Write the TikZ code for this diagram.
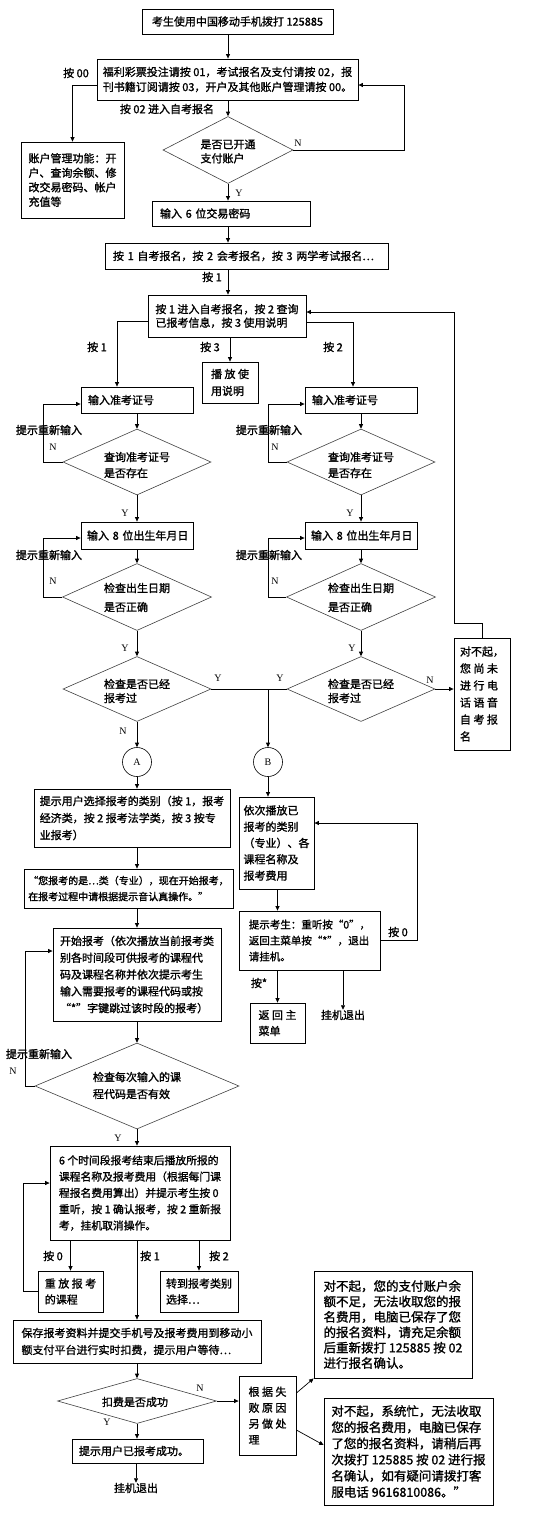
\documentclass[tikz,border=0pt]{standalone}
\usepackage{fontspec}
\setmainfont{Liberation Serif}
\newfontfamily\cjkfam{Noto Sans CJK SC}[AutoFakeBold=1.3]
\newcommand\cjk{\cjkfam\bfseries}
\usetikzlibrary{arrows.meta,shapes.geometric}
\begin{document}
\begin{tikzpicture}[x=1pt,y=-1pt,
 box/.style={draw,line width=0.8pt,inner sep=2pt,align=left,font=\cjk\fontsize{11}{15}\selectfont},
 dia/.style={draw=black!75,line width=0.6pt,diamond,inner sep=0pt},
 dtext/.style={inner sep=0pt,align=left},
 lab/.style={inner sep=0pt,font=\cjk\fontsize{11}{13}\selectfont},
 yn/.style={inner sep=0pt,font=\fontsize{10}{12}\selectfont},
 arr/.style={line width=0.7pt,-{Triangle[length=4.5pt,width=4pt]}},
 ln/.style={line width=0.7pt},
 circ/.style={circle,draw,line width=0.6pt,minimum size=29pt,inner sep=0pt,font=\fontsize{10}{12}\selectfont}
]
\useasboundingbox (0,0) rectangle (540,1516);

% ---------- top part ----------
\node[box,minimum width=191pt,minimum height=25pt] (n1) at (237.5,21.5) {考生使用中国移动手机拨打 125885};
\node[box,minimum width=261pt,minimum height=41pt] (n2) at (227.5,79.5) {福利彩票投注请按 01，考试报名及支付请按 02，报\\刊书籍订阅请按 03，开户及其他账户管理请按 00。};
\node[box,minimum width=103pt,minimum height=76pt,font=\cjk\fontsize{11}{14.5}\selectfont] (acct) at (72.5,180) {账户管理功能：开\\户、查询余额、修\\改交易密码、帐户\\充值等};
\node[dia,minimum width=130pt,minimum height=67pt] (d1) at (228,150) {};
\node[dtext,font=\cjk\fontsize{11}{14}\selectfont] (d1t) at (228,151.5) {是否已开通\\支付账户};
\node[box,minimum width=158pt,minimum height=25pt,text width=142pt] (pwd) at (231,213.5) {输入~6~位交易密码};
\node[box,minimum width=283pt,minimum height=26pt,text width=267pt] (menu1) at (246.5,256) {按~1~自考报名，按~2~会考报名，按~3~两学考试报名…};
\node[box,minimum width=158pt,minimum height=42pt,font=\cjk\fontsize{11}{13.5}\selectfont] (menu2) at (227,316) {按 1 进入自考报名，按 2 查询\\已报考信息，按 3 使用说明};
\node[box,minimum width=56pt,minimum height=41pt,font=\cjk\fontsize{11}{17}\selectfont] (play) at (230,382.5) {播 放 使\\用说明};

% ---------- left column checks ----------
\node[box,minimum width=112pt,minimum height=26pt,text width=98pt] (L1) at (137,400) {输入准考证号};
\node[box,minimum width=112pt,minimum height=26pt,text width=98pt] (R1) at (361,400) {输入准考证号};
\node[dia,minimum width=148pt,minimum height=66pt] (LD1) at (137,462) {};
\node[dtext,font=\cjk\fontsize{11}{16}\selectfont] (LD1t) at (137,465) {查询准考证号\\是否存在};
\node[dia,minimum width=148pt,minimum height=66pt] (RD1) at (361,462) {};
\node[dtext,font=\cjk\fontsize{11}{16}\selectfont] (RD1t) at (361,465) {查询准考证号\\是否存在};
\node[box,minimum width=112pt,minimum height=27pt,text width=100pt] (L2) at (137,535.5) {输入~8~位出生年月日};
\node[box,minimum width=112pt,minimum height=27pt,text width=100pt] (R2) at (361,535.5) {输入~8~位出生年月日};
\node[dia,minimum width=149pt,minimum height=67pt] (LD2) at (137,597) {};
\node[dtext,font=\cjk\fontsize{11}{19}\selectfont] (LD2t) at (137,597.5) {检查出生日期\\是否正确};
\node[dia,minimum width=149pt,minimum height=67pt] (RD2) at (361,597) {};
\node[dtext,font=\cjk\fontsize{11}{19}\selectfont] (RD2t) at (361,597.5) {检查出生日期\\是否正确};
\node[dia,minimum width=148pt,minimum height=65pt] (LD3) at (137,689) {};
\node[dtext,font=\cjk\fontsize{11}{14}\selectfont] (LD3t) at (137,691) {检查是否已经\\报考过};
\node[dia,minimum width=148pt,minimum height=65pt] (RD3) at (361,689) {};
\node[dtext,font=\cjk\fontsize{11}{14}\selectfont] (RD3t) at (361,691) {检查是否已经\\报考过};
\node[box,minimum width=56pt,minimum height=112pt,font=\cjk\fontsize{11}{17}\selectfont] (sorry1) at (482,694) {对不起，\\您 尚 未\\进 行 电\\话 语 音\\自 考 报\\名};

\node[circ] (A) at (137,762) {A};
\node[circ] (B) at (268,762) {B};

% ---------- middle ----------
\node[box,minimum width=196pt,minimum height=58pt,font=\cjk\fontsize{11}{17}\selectfont] (cat) at (132,818) {提示用户选择报考的类别（按 1，报考\\经济类，按 2 报考法学类，按 3 按专\\业报考）};
\node[box,minimum width=75pt,minimum height=92pt,font=\cjk\fontsize{11}{16.3}\selectfont] (list) at (276.5,843) {依次播放已\\报考的类别\\（专业）、各\\课程名称及\\报考费用};
\node[box,minimum width=209pt,minimum height=39pt,font=\cjk\fontsize{10}{16}\selectfont] (start) at (128.5,888.5) {“您报考的是…类（专业），现在开始报考，\\在报考过程中请根据提示音认真操作。”};
\node[box,minimum width=141pt,minimum height=59pt,font=\cjk\fontsize{10.5}{16}\selectfont] (tip) at (309.5,940.5) {提示考生：重听按“0”，\\返回主菜单按“*”，退出\\请挂机。};
\node[box,minimum width=55pt,minimum height=40pt,font=\cjk\fontsize{11}{16}\selectfont] (main) at (277.5,1023) {返 回 主\\菜单};
\node[lab] (hang1) at (343,1015) {挂机退出};
\node[box,minimum width=168pt,minimum height=93pt,font=\cjk\fontsize{11}{16.8}\selectfont] (course) at (137,974.5) {开始报考（依次播放当前报考类\\别各时间段可供报考的课程代\\码及课程名称并依次提示考生\\输入需要报考的课程代码或按\\“*”字键跳过该时段的报考）};
\node[dia,minimum width=204pt,minimum height=86pt] (D4) at (137,1086) {};
\node[dtext,font=\cjk\fontsize{11}{17}\selectfont] (D4t) at (137,1085.5) {检查每次输入的课\\程代码是否有效};
\node[box,minimum width=180pt,minimum height=94pt,font=\cjk\fontsize{10.8}{16.3}\selectfont] (summary) at (140,1193) {6 个时间段报考结束后播放所报的\\课程名称及报考费用（根据每门课\\程报名费用算出）并提示考生按 0\\重听，按 1 确认报考，按 2 重新报\\考，挂机取消操作。};

% ---------- bottom ----------
\node[box,minimum width=65pt,minimum height=41pt,font=\cjk\fontsize{11}{16}\selectfont] (replay) at (70.5,1291.5) {重 放 报 考\\的课程};
\node[box,minimum width=78pt,minimum height=41pt,font=\cjk\fontsize{11}{16}\selectfont] (goto) at (199,1291.5) {转到报考类别\\选择…};
\node[box,minimum width=248pt,minimum height=43pt,font=\cjk\fontsize{11}{17}\selectfont] (save) at (137,1341.5) {保存报考资料并提交手机号及报考费用到移动小\\额支付平台进行实时扣费，提示用户等待…};
\node[dia,minimum width=159pt,minimum height=45pt] (D5) at (137,1401) {};
\node[dtext,font=\cjk\fontsize{11}{14}\selectfont] (D5t) at (135,1402) {扣费是否成功};
\node[box,minimum width=57pt,minimum height=79pt,font=\cjk\fontsize{11}{16}\selectfont] (fail) at (267.5,1415.5) {根 据 失\\败 原 因\\另 做 处\\理};
\node[box,minimum width=131pt,minimum height=24pt,text width=117pt] (ok) at (137.5,1451) {提示用户已报考成功。};
\node[lab] (hang2) at (136,1488) {挂机退出};
\node[box,minimum width=158pt,minimum height=107pt,font=\cjk\fontsize{12.5}{15.4}\selectfont] (sorry2) at (393,1324.5) {对不起，您的支付账户余\\额不足，无法收取您的报\\名费用，电脑已保存了您\\的报名资料，请充足余额\\后重新拨打 125885 按 02\\进行报名确认。};
\node[box,minimum width=169pt,minimum height=107pt,font=\cjk\fontsize{12.5}{16.2}\selectfont] (sorry3) at (408.5,1451.5) {对不起，系统忙，无法收取\\您的报名费用，电脑已保存\\了您的报名资料，请稍后再\\次拨打 125885 按 02 进行报\\名确认，如有疑问请拨打客\\服电话 9616810086。”};

% ---------- labels ----------
\node[lab] (l00) at (76,73) {按 00};
\node[lab] (l02) at (167,109) {按 02 进入自考报名};
\node[yn] (yn1) at (298,143) {N};
\node[yn] (yn2) at (239,193) {Y};
\node[lab] (lk1) at (212,277) {按 1};
\node[lab] (lk1b) at (97,347) {按 1};
\node[lab] (lk3) at (210,347) {按 3};
\node[lab] (lk2) at (333,347) {按 2};
\node[lab] (rt1) at (49,430) {提示重新输入};
\node[lab] (rt2) at (269,430) {提示重新输入};
\node[yn] (yn3) at (53,447) {N};
\node[yn] (yn4) at (275,447) {N};
\node[yn] (yn5) at (125,513) {Y};
\node[yn] (yn6) at (350,513) {Y};
\node[lab] (rt3) at (49,555) {提示重新输入};
\node[lab] (rt4) at (269,555) {提示重新输入};
\node[yn] (yn7) at (53,581) {N};
\node[yn] (yn8) at (275,581) {N};
\node[yn] (yn9) at (125,648) {Y};
\node[yn] (yn10) at (352,648) {Y};
\node[yn] (yn11) at (218,678) {Y};
\node[yn] (yn12) at (280,678) {Y};
\node[yn] (yn13) at (430,680) {N};
\node[yn] (yn14) at (123,731) {N};
\node[lab] (lk0) at (398,932) {按 0};
\node[lab] (lkx) at (259,983) {按*};
\node[lab] (rt5) at (39,1054) {提示重新输入};
\node[yn] (yn15) at (13,1071) {N};
\node[yn] (yn16) at (118,1138) {Y};
\node[lab] (lb0) at (53,1256) {按 0};
\node[lab] (lb1) at (150,1256) {按 1};
\node[lab] (lb2) at (219,1256) {按 2};
\node[yn] (yn17) at (200,1388) {N};
\node[yn] (yn18) at (107,1422) {Y};

% ---------- connectors ----------
\draw[arr] (n1.south -| d1.north) -- (n2.north -| d1.north);
\draw[arr] (n2.south -| d1.north) -- (d1.north);
\draw[arr] ([yshift=-5.5pt]n2.west) -| (acct.north);
\draw[arr] (d1.east) -- (404,150) -- (404,85) -- ([yshift=-5.5pt]n2.east);
\draw[arr] (d1.south) -- (pwd.north -| d1.south);
\draw[arr] (pwd.south -| d1.south) -- (menu1.north -| d1.south);
\draw[arr] (menu1.south -| d1.south) -- (menu2.north -| d1.south);
\draw[arr] (menu2.south -| play.north) -- (play.north);
\draw[arr] ([yshift=-5pt]menu2.west) -| ([xshift=-20pt]L1.north);
\draw[arr] ([yshift=-6pt]menu2.east) -| ([xshift=-8pt]R1.north);
\draw[arr] (sorry1.north) -- (482,623) -- (454,623) -- (454,312) -- ([yshift=4pt]menu2.east);

\draw[arr] (L1.south) -- (LD1.north);
\draw[arr] (LD1.west) -- (43,462) |- ([yshift=-4pt]L1.west);
\draw[arr] (LD1.south) -- (L2.north);
\draw[arr] (L2.south) -- (LD2.north);
\draw[arr] (LD2.west) -- (43,597) |- ([yshift=-2.5pt]L2.west);
\draw[arr] (LD2.south) -- (LD3.north);
\draw[arr] (LD3.south) -- (A.north);
\draw[arr] (LD3.east) -| (B.north);

\draw[arr] (R1.south) -- (RD1.north);
\draw[arr] (RD1.west) -- (268,462) |- ([yshift=-4pt]R1.west);
\draw[arr] (RD1.south) -- (R2.north);
\draw[arr] (R2.south) -- (RD2.north);
\draw[arr] (RD2.west) -- (268,597) |- ([yshift=-2.5pt]R2.west);
\draw[arr] (RD2.south) -- (RD3.north);
\draw[ln] (RD3.west) -- (B.north |- RD3.west);
\draw[arr] (RD3.east) -- (RD3.east -| sorry1.west);

\draw[arr] (A.south) -- (cat.north -| A.south);
\draw[arr] (B.south) -- (list.north -| B.south);
\draw[arr] (cat.south -| A.south) -- (start.north -| A.south);
\draw[arr] (start.south -| A.south) -- (course.north);
\draw[arr] (list.south -| main.north) -- (tip.north -| main.north);
\draw[arr] (tip.east) -- (417,940.5) |- ([yshift=20pt]list.east);
\draw[arr] (tip.south -| main.north) -- (main.north);
\draw[arr] (tip.south -| hang1.north) -- (hang1.north);

\draw[arr] (course.south) -- (D4.north);
\draw[arr] (D4.west) -- (25,1086) |- ([yshift=23.5pt]course.west);
\draw[arr] (D4.south) -- (summary.north -| D4.south);
\draw[arr] (summary.south -| replay.north) -- (replay.north);
\draw[arr] (summary.south -| save.north) -- (save.north);
\draw[arr] (summary.south -| goto.north) -- (goto.north);
\draw[arr] (replay.west) -- (23,1291.5) |- ([yshift=10pt]summary.west);

\draw[arr] (save.south) -- (D5.north);
\draw[arr] (D5.south) -- (ok.north -| D5.south);
\draw[arr] (ok.south -| hang2.north) -- (hang2.north);
\draw[arr] (D5.east) -- (D5.east -| fail.west);
\draw[arr] ([yshift=22.5pt]fail.east) -- (sorry2.south west);
\draw[arr] ([yshift=-14.5pt]fail.east) -- ([yshift=6.5pt]sorry3.west);
\end{tikzpicture}
\end{document}
